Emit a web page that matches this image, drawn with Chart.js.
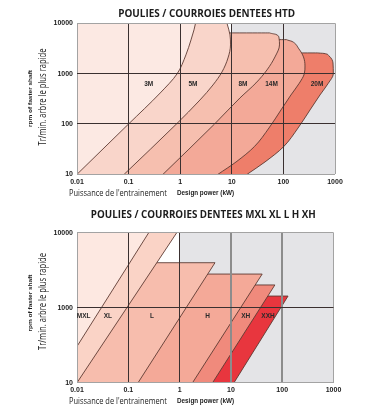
<!DOCTYPE html>
<html>
<head>
<meta charset="utf-8">
<script src="https://cdn.jsdelivr.net/npm/chart.js@4.4.0/dist/chart.umd.min.js"></script>
<style>
  html, body { margin: 0; padding: 0; background: #fff; }
  canvas { display: block; }
</style>
</head>
<body>
<canvas id="htd" width="384" height="200"></canvas>
<canvas id="mxl" width="384" height="213"></canvas>
<script>
// ─── Data ─── //
// power (kW) on x, rpm of faster shaft on y, both log

const X_TICKS = [0.01, 0.1, 1, 10, 100, 1000];
const X_LABELS = ['0.01', '0.1', '1', '10', '100', '1000'];

// HTD chart
const HTD_Y_TICKS = [10, 100, 1000, 10000];
const HTD_Y_LABELS = ['10', '100', '1000', '10000'];
const HTD_NAMES = ['3M', '5M', '8M', '14M', '20M'];
const HTD_GREY_FROM = 10;   // kW, grey zone to the right

// each outline goes from the bottom edge up to the top of its zone [kW, rpm]
const HTD_3M = [[0.01, 10], [0.1, 100], [0.41, 413], [0.87, 990], [1.29, 2355], [1.62, 4680],
                [1.85, 7400], [1.98, 10000]];
const HTD_5M = [[0.082, 10], [0.83, 98], [2.42, 300], [4.32, 596], [6.46, 1081], [8.44, 2050],
                [9.44, 3720], [9.23, 5880], [8.07, 10000]];
const HTD_8M = [[0.464, 10], [4.64, 100], [14.4, 329], [29.4, 653], [48.1, 1185], [68.7, 2148],
                [84, 3720], [82.2, 5125], [71.9, 6016], [55, 6440], [0.01, 6440]];
const HTD_14M = [[5.4, 10], [12.1, 17.6], [27.3, 35.4], [52.6, 83.3], [89.8, 190], [140, 377],
                 [203, 645], [254, 990], [262, 1422], [245, 2148], [200, 3097], [147, 4365],
                 [117, 4740], [0.01, 4740]];
const HTD_20M = [[19.8, 10], [44, 17.6], [100, 35], [192, 83], [328, 190], [512, 377], [742, 645],
                 [927, 990], [914, 1630], [765, 2250], [612, 2520], [469, 2580], [0.01, 2580]];
const HTD_LABEL_AT = [[0.245, 624], [1.77, 624], [16.5, 624], [59, 624], [448, 624]];

// MXL XL L H XH chart
const MXL_Y_TICKS = [100, 1000, 10000];
const MXL_Y_LABELS = ['10', '1000', '10000'];
const MXL_NAMES = ['MXL', 'XL', 'L', 'H', 'XH', 'XXH'];
const MXL_GREY_FROM = 1;

const MXL_MXL = [[0.01, 305], [0.25, 10000]];
const MXL_XL = [[0.01, 100], [0.88, 10000]];
const MXL_L = [[0.155, 100], [4.9, 3980], [0.01, 3980]];
const MXL_H = [[1.79, 100], [40.7, 2810], [0.01, 2810]];
const MXL_XH = [[4.4, 100], [72, 2010], [0.01, 2010]];
const MXL_XXH = [[11.5, 100], [130, 1430], [0.01, 1430]];
const MXL_LABEL_AT = [[0.0135, 774], [0.04, 774], [0.29, 774], [3.5, 774], [19.5, 774], [53, 774]];

// ─── Styles ─── //
const GREY = '#e4e4e7';
const OUTLINE = '#5e3a32';
const HTD_COLORS = ['#fce9e3', '#f9d5ca', '#f6bfaf', '#f3a998', '#ee7e6a'];
const MXL_COLORS = ['#fde8e1', '#fad3c6', '#f7bdad', '#f4a998', '#f08a7c', '#e8363e'];
const TEXT = '#1c1c1c';
const TICK_FONT = { family: 'Liberation Sans', size: 7, weight: 'bold' };

const toPts = arr => arr.map(([x, y]) => ({ x, y }));

// text squeezed to the width it has in the original
function fitText(ctx, text, x, y, width, font) {
  ctx.font = font;
  const w = ctx.measureText(text).width;
  ctx.save();
  ctx.translate(x, y);
  ctx.scale(width / w, 1);
  ctx.fillText(text, 0, 0);
  ctx.restore();
}

const decor = {
  id: 'decor',
  afterDraw(chart, args, o) {
    const { ctx, scales: { x, y } } = chart;
    ctx.save();
    ctx.fillStyle = TEXT;
    ctx.textBaseline = 'middle';
    ctx.textAlign = 'center';
    fitText(ctx, o.title, o.titleX, o.titleY, o.titleW, 'bold 10.5px "Open Sans"');

    ctx.font = 'bold 6.5px "Liberation Sans"';
    ctx.fillStyle = '#2a2a2a';
    o.names.forEach((n, i) => {
      ctx.fillText(n, x.getPixelForValue(o.at[i][0]), y.getPixelForValue(o.at[i][1]));
    });

    ctx.fillStyle = TEXT;
    ctx.textAlign = 'left';
    fitText(ctx, "Puissance de l'entrainement", 69, o.xTitleY, 98, '9.5px "Open Sans"');
    fitText(ctx, 'Design power (kW)', 177, o.xTitleY, 57, 'bold 7.5px "Liberation Sans"');

    ctx.textAlign = 'center';
    ctx.save();
    ctx.translate(43, o.yTitleY);
    ctx.rotate(-Math.PI / 2);
    fitText(ctx, 'Tr/min. arbre le plus rapide', 0, 0, 97, '10px "Open Sans"');
    ctx.restore();
    ctx.save();
    ctx.translate(30, o.yTitleY + 1.5);
    ctx.rotate(-Math.PI / 2);
    fitText(ctx, 'rpm of faster shaft', 0, 0, 57, 'bold 6px "Liberation Sans"');
    ctx.restore();
    ctx.restore();
  }
};

function beltDatasets(curves, colors, greyFrom, yMin, yMax) {
  const sets = [{
    data: toPts([[greyFrom, yMin], [greyFrom, yMax]]),
    fill: { value: 1000 },
    backgroundColor: GREY,
    borderWidth: 0,
    pointRadius: 0,
    order: 99
  }];
  curves.forEach((c, i) => {
    const curved = c.length > 3;
    sets.push({
      data: toPts(c),
      fill: { value: 0.01 },
      backgroundColor: colors[i],
      borderColor: OUTLINE,
      borderWidth: 0.9,
      pointRadius: 0,
      cubicInterpolationMode: curved ? 'monotone' : 'default',
      tension: curved ? 0.4 : 0,
      order: i + 1
    });
  });
  return sets;
}

function makeChart(id, cfg) {
  const lineCol = v => (cfg.edge.includes(v) ? '#a3a3a3' : (cfg.greyLines.includes(v) ? '#8c8c8c' : '#3a3030'));
  new Chart(document.getElementById(id), {
    type: 'line',
    data: { datasets: beltDatasets(cfg.curves, cfg.colors, cfg.greyFrom, cfg.yTicks[0], cfg.yTicks[cfg.yTicks.length - 1]) },
    options: {
      responsive: false,
      devicePixelRatio: 1,
      animation: false,
      events: [],
      indexAxis: 'y',
      layout: { padding: cfg.padding },
      scales: {
        x: {
          type: 'logarithmic',
          min: 0.01, max: 1000,
          afterBuildTicks: s => { s.ticks = X_TICKS.map(v => ({ value: v })); },
          afterFit: s => { s.height = cfg.xHeight; },
          ticks: {
            autoSkip: false, maxRotation: 0, padding: cfg.xPad,
            font: TICK_FONT, color: TEXT,
            callback: (v, i) => X_LABELS[i]
          },
          grid: {
            z: 1, drawTicks: false,
            color: c => lineCol(c.tick ? c.tick.value : 0),
            lineWidth: c => (c.tick && cfg.greyLines.includes(c.tick.value) ? 2 : 1)
          },
          border: { display: false }
        },
        y: {
          type: 'logarithmic',
          min: cfg.yTicks[0], max: cfg.yTicks[cfg.yTicks.length - 1],
          afterBuildTicks: s => { s.ticks = cfg.yTicks.map(v => ({ value: v })); },
          afterFit: s => { s.width = 77; },
          ticks: {
            autoSkip: false, padding: 4,
            font: TICK_FONT, color: TEXT,
            callback: (v, i) => cfg.yLabels[i]
          },
          grid: {
            z: 1, drawTicks: false,
            color: c => (c.tick && (c.index === 0 || c.index === cfg.yTicks.length - 1) ? '#a3a3a3' : '#3a3030')
          },
          border: { display: false }
        }
      },
      plugins: {
        legend: { display: false },
        tooltip: { enabled: false },
        decor: cfg.decor
      }
    },
    plugins: [decor]
  });
}

makeChart('htd', {
  curves: [HTD_3M, HTD_5M, HTD_8M, HTD_14M, HTD_20M],
  colors: HTD_COLORS,
  greyFrom: HTD_GREY_FROM,
  yTicks: HTD_Y_TICKS,
  yLabels: HTD_Y_LABELS,
  edge: [0.01, 1000],
  greyLines: [],
  padding: { top: 23.3, right: 49, bottom: 0, left: 0 },
  xHeight: 25.7,
  xPad: 4,
  decor: {
    title: 'POULIES / COURROIES DENTEES HTD', titleX: 206.7, titleY: 14, titleW: 177,
    names: HTD_NAMES, at: HTD_LABEL_AT, xTitleY: 193, yTitleY: 97
  }
});

makeChart('mxl', {
  curves: [MXL_MXL, MXL_XL, MXL_L, MXL_H, MXL_XH, MXL_XXH],
  colors: MXL_COLORS,
  greyFrom: MXL_GREY_FROM,
  yTicks: MXL_Y_TICKS,
  yLabels: MXL_Y_LABELS,
  edge: [0.01, 1000],
  greyLines: [10, 100],
  padding: { top: 32.7, right: 50.5, bottom: 0, left: 0 },
  xHeight: 30.3,
  xPad: 3,
  decor: {
    title: 'POULIES / COURROIES DENTEES MXL XL L H XH', titleX: 203.3, titleY: 15, titleW: 225,
    names: MXL_NAMES, at: MXL_LABEL_AT, xTitleY: 201, yTitleY: 101.5
  }
});
</script>
</body>
</html>
